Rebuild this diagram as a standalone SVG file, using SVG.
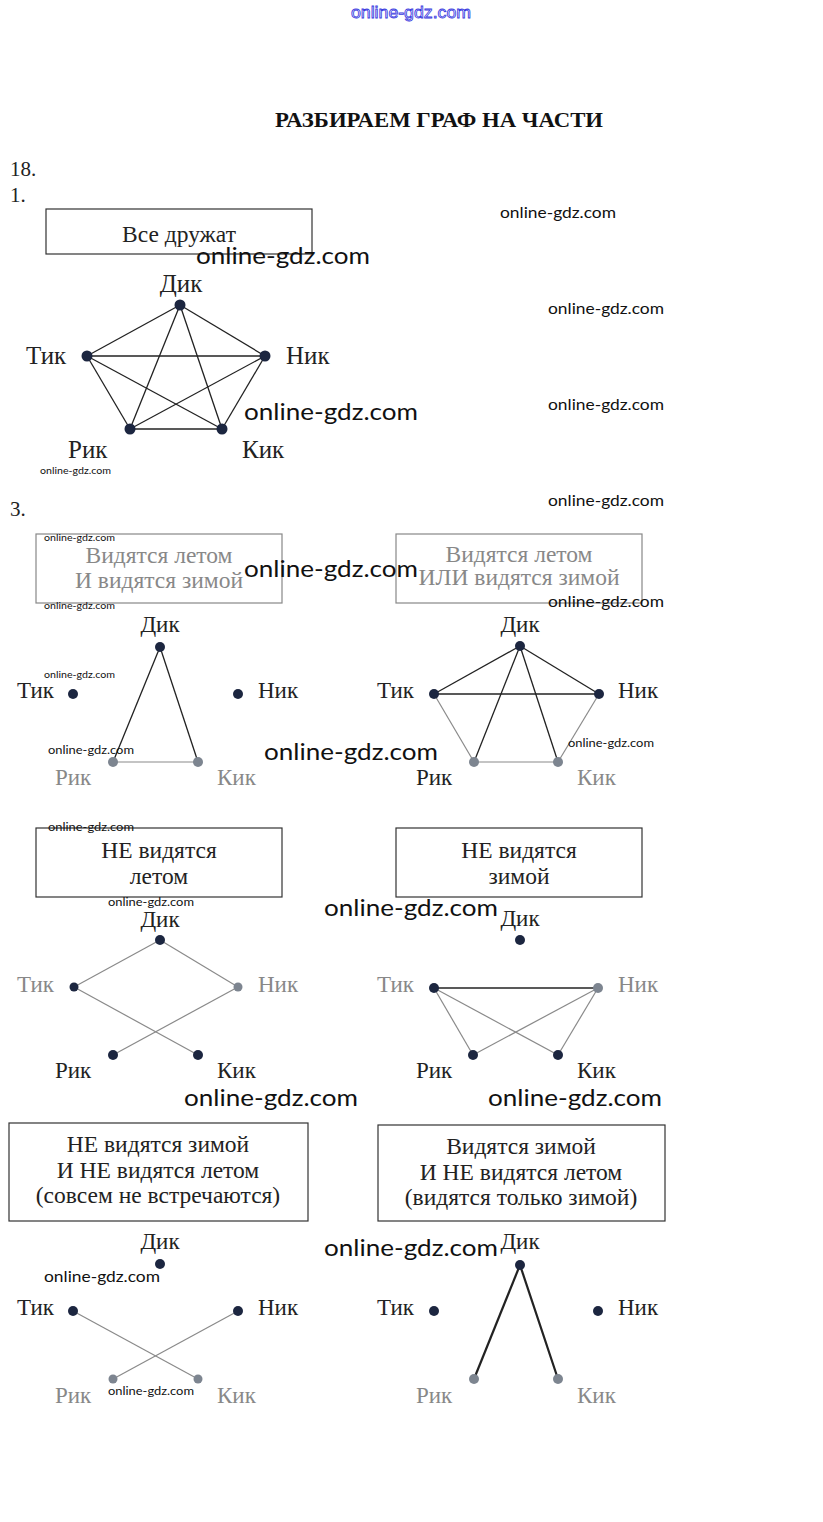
<svg xmlns="http://www.w3.org/2000/svg" width="823" height="1522" viewBox="0 0 823 1522">
<style>
.lbl{font-family:"Liberation Serif","Times New Roman",serif;font-size:23px;fill:#222}
.lbl1{font-family:"Liberation Serif","Times New Roman",serif;font-size:25px;fill:#222}
.fade{fill:#888}
.box{fill:none;stroke:#333;stroke-width:1.2}
.boxf{fill:none;stroke:#888;stroke-width:1.2}
.btx{font-family:"Liberation Serif","Times New Roman",serif;font-size:23.5px;fill:#222;text-anchor:middle}
.btxf{fill:#888}
.dot{fill:#1c2640}
.gdot{fill:#7d8590}
.e{stroke:#222;stroke-width:1.3;fill:none}
.eg{stroke:#8a8a8a;stroke-width:1.2;fill:none}
.eb{stroke:#222;stroke-width:2.2;fill:none}
.wm{font-family:Lato,"Open Sans",sans-serif;fill:#111}
.num{font-family:"Liberation Serif","Times New Roman",serif;font-size:21px;fill:#222}
</style>
<rect width="823" height="1522" fill="#fff"/>

<!-- header -->
<text x="411" y="18" text-anchor="middle" font-family="Liberation Sans,Arial,sans-serif" font-size="16" fill="#fff" stroke="#3a3ae0" stroke-width="0.8" textLength="120" lengthAdjust="spacingAndGlyphs">online-gdz.com</text>
<text x="439" y="127" text-anchor="middle" font-family="Liberation Serif,Times New Roman,serif" font-size="21" font-weight="bold" fill="#111" textLength="328" lengthAdjust="spacingAndGlyphs">РАЗБИРАЕМ ГРАФ НА ЧАСТИ</text>
<text class="num" x="10" y="176">18.</text>
<text class="num" x="10" y="202">1.</text>
<text class="num" x="10" y="516">3.</text>

<!-- ===== Section 1 ===== -->
<g id="box1">
<rect class="box" x="46" y="209" width="266" height="45"/>
<text class="btx" x="179" y="242" font-size="27">Все дружат</text>
</g>
<g id="conn1">
<line class="e" x1="180" y1="305" x2="87" y2="356"/>
<line class="e" x1="180" y1="305" x2="265" y2="356"/>
<line class="e" x1="180" y1="305" x2="130" y2="429"/>
<line class="e" x1="180" y1="305" x2="222" y2="429"/>
<line class="e" x1="87" y1="356" x2="265" y2="356"/>
<line class="e" x1="87" y1="356" x2="130" y2="429"/>
<line class="e" x1="87" y1="356" x2="222" y2="429"/>
<line class="e" x1="265" y1="356" x2="130" y2="429"/>
<line class="e" x1="265" y1="356" x2="222" y2="429"/>
<line class="e" x1="130" y1="429" x2="222" y2="429"/>
</g>
<g id="s1-dik"><circle class="dot" cx="180" cy="305" r="5.5"/><text class="lbl1" x="181" y="292" text-anchor="middle">Дик</text></g>
<g id="s1-tik"><circle class="dot" cx="87" cy="356" r="5.5"/><text class="lbl1" x="26" y="364">Тик</text></g>
<g id="s1-nik"><circle class="dot" cx="265" cy="356" r="5.5"/><text class="lbl1" x="286" y="364">Ник</text></g>
<g id="s1-rik"><circle class="dot" cx="130" cy="429" r="5.5"/><text class="lbl1" x="68" y="458">Рик</text></g>
<g id="s1-kik"><circle class="dot" cx="222" cy="429" r="5.5"/><text class="lbl1" x="242" y="458">Кик</text></g>

<!-- ===== Section 3, row 1 left ===== -->
<g id="box3a">
<rect class="boxf" x="36" y="534" width="246" height="69"/>
<text class="btx btxf" x="159" y="563">Видятся летом</text>
<text class="btx btxf" x="159" y="588">И видятся зимой</text>
</g>
<g id="conn3a">
<line class="e" x1="160" y1="647" x2="113" y2="762"/>
<line class="e" x1="160" y1="647" x2="198" y2="762"/>
<line class="eg" x1="113" y1="762" x2="198" y2="762"/>
</g>
<g id="a-dik"><circle class="dot" cx="160" cy="647" r="5"/><text class="lbl" x="160" y="632" text-anchor="middle">Дик</text></g>
<g id="a-tik"><circle class="dot" cx="73" cy="694" r="5"/><text class="lbl" x="17" y="698">Тик</text></g>
<g id="a-nik"><circle class="dot" cx="238" cy="694" r="5"/><text class="lbl" x="258" y="698">Ник</text></g>
<g id="a-rik"><circle class="gdot" cx="113" cy="762" r="5"/><text class="lbl fade" x="55" y="785">Рик</text></g>
<g id="a-kik"><circle class="gdot" cx="198" cy="762" r="5"/><text class="lbl fade" x="217" y="785">Кик</text></g>

<!-- row 1 right -->
<g id="box3b">
<rect class="boxf" x="396" y="534" width="246" height="69"/>
<text class="btx btxf" x="519" y="562">Видятся летом</text>
<text class="btx btxf" x="519" y="585">ИЛИ видятся зимой</text>
</g>
<g id="conn3b">
<line class="e" x1="520" y1="646" x2="434" y2="694"/>
<line class="e" x1="520" y1="646" x2="599" y2="694"/>
<line class="e" x1="434" y1="694" x2="599" y2="694"/>
<line class="e" x1="520" y1="646" x2="474" y2="762"/>
<line class="e" x1="520" y1="646" x2="558" y2="762"/>
<line class="eg" x1="434" y1="694" x2="474" y2="762"/>
<line class="eg" x1="599" y1="694" x2="558" y2="762"/>
<line class="eg" x1="474" y1="762" x2="558" y2="762"/>
</g>
<g id="b-dik"><circle class="dot" cx="520" cy="646" r="5"/><text class="lbl" x="520" y="632" text-anchor="middle">Дик</text></g>
<g id="b-tik"><circle class="dot" cx="434" cy="694" r="5"/><text class="lbl" x="377" y="698">Тик</text></g>
<g id="b-nik"><circle class="dot" cx="599" cy="694" r="5"/><text class="lbl" x="618" y="698">Ник</text></g>
<g id="b-rik"><circle class="gdot" cx="474" cy="762" r="5"/><text class="lbl" x="416" y="785">Рик</text></g>
<g id="b-kik"><circle class="gdot" cx="558" cy="762" r="5"/><text class="lbl fade" x="577" y="785">Кик</text></g>

<!-- row 2 left -->
<g id="box3c">
<rect class="box" x="36" y="828" width="246" height="69"/>
<text class="btx" x="159" y="858">НЕ видятся</text>
<text class="btx" x="159" y="884">летом</text>
</g>
<g id="conn3c">
<line class="eg" x1="160" y1="940" x2="74" y2="987"/>
<line class="eg" x1="160" y1="940" x2="238" y2="987"/>
<line class="eg" x1="74" y1="987" x2="198" y2="1055"/>
<line class="eg" x1="238" y1="987" x2="113" y2="1055"/>
</g>
<g id="c-dik"><circle class="dot" cx="160" cy="940" r="5"/><text class="lbl" x="160" y="927" text-anchor="middle">Дик</text></g>
<g id="c-tik"><circle class="dot" cx="74" cy="987" r="4.5"/><text class="lbl fade" x="17" y="992">Тик</text></g>
<g id="c-nik"><circle class="gdot" cx="238" cy="987" r="4.5"/><text class="lbl fade" x="258" y="992">Ник</text></g>
<g id="c-rik"><circle class="dot" cx="113" cy="1055" r="5"/><text class="lbl" x="55" y="1078">Рик</text></g>
<g id="c-kik"><circle class="dot" cx="198" cy="1055" r="5"/><text class="lbl" x="217" y="1078">Кик</text></g>

<!-- row 2 right -->
<g id="box3d">
<rect class="box" x="396" y="828" width="246" height="69"/>
<text class="btx" x="519" y="858">НЕ видятся</text>
<text class="btx" x="519" y="884">зимой</text>
</g>
<g id="conn3d">
<line class="e" x1="434" y1="988" x2="598" y2="988"/>
<line class="eg" x1="434" y1="988" x2="473" y2="1055"/>
<line class="eg" x1="434" y1="988" x2="558" y2="1055"/>
<line class="eg" x1="598" y1="988" x2="473" y2="1055"/>
<line class="eg" x1="598" y1="988" x2="558" y2="1055"/>
</g>
<g id="d-dik"><circle class="dot" cx="520" cy="940" r="5"/><text class="lbl" x="520" y="926" text-anchor="middle">Дик</text></g>
<g id="d-tik"><circle class="dot" cx="434" cy="988" r="5"/><text class="lbl fade" x="377" y="992">Тик</text></g>
<g id="d-nik"><circle class="gdot" cx="598" cy="988" r="5"/><text class="lbl fade" x="618" y="992">Ник</text></g>
<g id="d-rik"><circle class="dot" cx="473" cy="1055" r="5"/><text class="lbl" x="416" y="1078">Рик</text></g>
<g id="d-kik"><circle class="dot" cx="558" cy="1055" r="5"/><text class="lbl" x="577" y="1078">Кик</text></g>

<!-- row 3 left -->
<g id="box3e">
<rect class="box" x="9" y="1123" width="299" height="98"/>
<text class="btx" x="158" y="1152">НЕ видятся зимой</text>
<text class="btx" x="158" y="1178">И НЕ видятся летом</text>
<text class="btx" x="158" y="1203">(совсем не встречаются)</text>
</g>
<g id="conn3e">
<line class="eg" x1="73" y1="1311" x2="198" y2="1379"/>
<line class="eg" x1="238" y1="1311" x2="113" y2="1379"/>
</g>
<g id="e-dik"><circle class="dot" cx="160" cy="1264" r="5"/><text class="lbl" x="160" y="1249" text-anchor="middle">Дик</text></g>
<g id="e-tik"><circle class="dot" cx="73" cy="1311" r="5"/><text class="lbl" x="17" y="1315">Тик</text></g>
<g id="e-nik"><circle class="dot" cx="238" cy="1311" r="5"/><text class="lbl" x="258" y="1315">Ник</text></g>
<g id="e-rik"><circle class="gdot" cx="113" cy="1379" r="4.5"/><text class="lbl fade" x="55" y="1403">Рик</text></g>
<g id="e-kik"><circle class="gdot" cx="198" cy="1379" r="4.5"/><text class="lbl fade" x="217" y="1403">Кик</text></g>

<!-- row 3 right -->
<g id="box3f">
<rect class="box" x="378" y="1125" width="287" height="96"/>
<text class="btx" x="521" y="1154">Видятся зимой</text>
<text class="btx" x="521" y="1180">И НЕ видятся летом</text>
<text class="btx" x="521" y="1205">(видятся только зимой)</text>
</g>
<g id="conn3f">
<line class="eb" x1="520" y1="1265" x2="474" y2="1379"/>
<line class="eb" x1="520" y1="1265" x2="558" y2="1379"/>
</g>
<g id="f-dik"><circle class="dot" cx="520" cy="1265" r="5"/><text class="lbl" x="520" y="1249" text-anchor="middle" font-size="20">Дик</text></g>
<g id="f-tik"><circle class="dot" cx="434" cy="1311" r="5"/><text class="lbl" x="377" y="1315">Тик</text></g>
<g id="f-nik"><circle class="dot" cx="598" cy="1311" r="5"/><text class="lbl" x="618" y="1315">Ник</text></g>
<g id="f-rik"><circle class="gdot" cx="474" cy="1379" r="5"/><text class="lbl fade" x="416" y="1403">Рик</text></g>
<g id="f-kik"><circle class="gdot" cx="558" cy="1379" r="5"/><text class="lbl fade" x="577" y="1403">Кик</text></g>

<!-- watermarks -->
<g id="watermarks" class="wm">
<text x="500" y="218" font-size="16" textLength="116" lengthAdjust="spacingAndGlyphs">online-gdz.com</text>
<text x="196" y="264" font-size="24" textLength="174" lengthAdjust="spacingAndGlyphs">online-gdz.com</text>
<text x="548" y="314" font-size="16" textLength="116" lengthAdjust="spacingAndGlyphs">online-gdz.com</text>
<text x="548" y="410" font-size="16" textLength="116" lengthAdjust="spacingAndGlyphs">online-gdz.com</text>
<text x="244" y="420" font-size="24" textLength="174" lengthAdjust="spacingAndGlyphs">online-gdz.com</text>
<text x="40" y="474" font-size="10" textLength="71" lengthAdjust="spacingAndGlyphs">online-gdz.com</text>
<text x="548" y="506" font-size="16" textLength="116" lengthAdjust="spacingAndGlyphs">online-gdz.com</text>
<text x="44" y="541" font-size="10" textLength="71" lengthAdjust="spacingAndGlyphs">online-gdz.com</text>
<text x="244" y="577" font-size="24" textLength="174" lengthAdjust="spacingAndGlyphs">online-gdz.com</text>
<text x="548" y="607" font-size="16" textLength="116" lengthAdjust="spacingAndGlyphs">online-gdz.com</text>
<text x="44" y="609" font-size="10" textLength="71" lengthAdjust="spacingAndGlyphs">online-gdz.com</text>
<text x="44" y="678" font-size="10" textLength="71" lengthAdjust="spacingAndGlyphs">online-gdz.com</text>
<text x="568" y="747" font-size="12" textLength="86" lengthAdjust="spacingAndGlyphs">online-gdz.com</text>
<text x="48" y="754" font-size="12" textLength="86" lengthAdjust="spacingAndGlyphs">online-gdz.com</text>
<text x="264" y="760" font-size="24" textLength="174" lengthAdjust="spacingAndGlyphs">online-gdz.com</text>
<text x="48" y="831" font-size="12" textLength="86" lengthAdjust="spacingAndGlyphs">online-gdz.com</text>
<text x="108" y="906" font-size="11" textLength="86" lengthAdjust="spacingAndGlyphs">online-gdz.com</text>
<text x="324" y="916" font-size="24" textLength="174" lengthAdjust="spacingAndGlyphs">online-gdz.com</text>
<text x="184" y="1106" font-size="24" textLength="174" lengthAdjust="spacingAndGlyphs">online-gdz.com</text>
<text x="488" y="1106" font-size="24" textLength="174" lengthAdjust="spacingAndGlyphs">online-gdz.com</text>
<text x="324" y="1256" font-size="24" textLength="174" lengthAdjust="spacingAndGlyphs">online-gdz.com</text>
<text x="44" y="1282" font-size="16" textLength="116" lengthAdjust="spacingAndGlyphs">online-gdz.com</text>
<text x="108" y="1395" font-size="12" textLength="86" lengthAdjust="spacingAndGlyphs">online-gdz.com</text>
</g>
</svg>
